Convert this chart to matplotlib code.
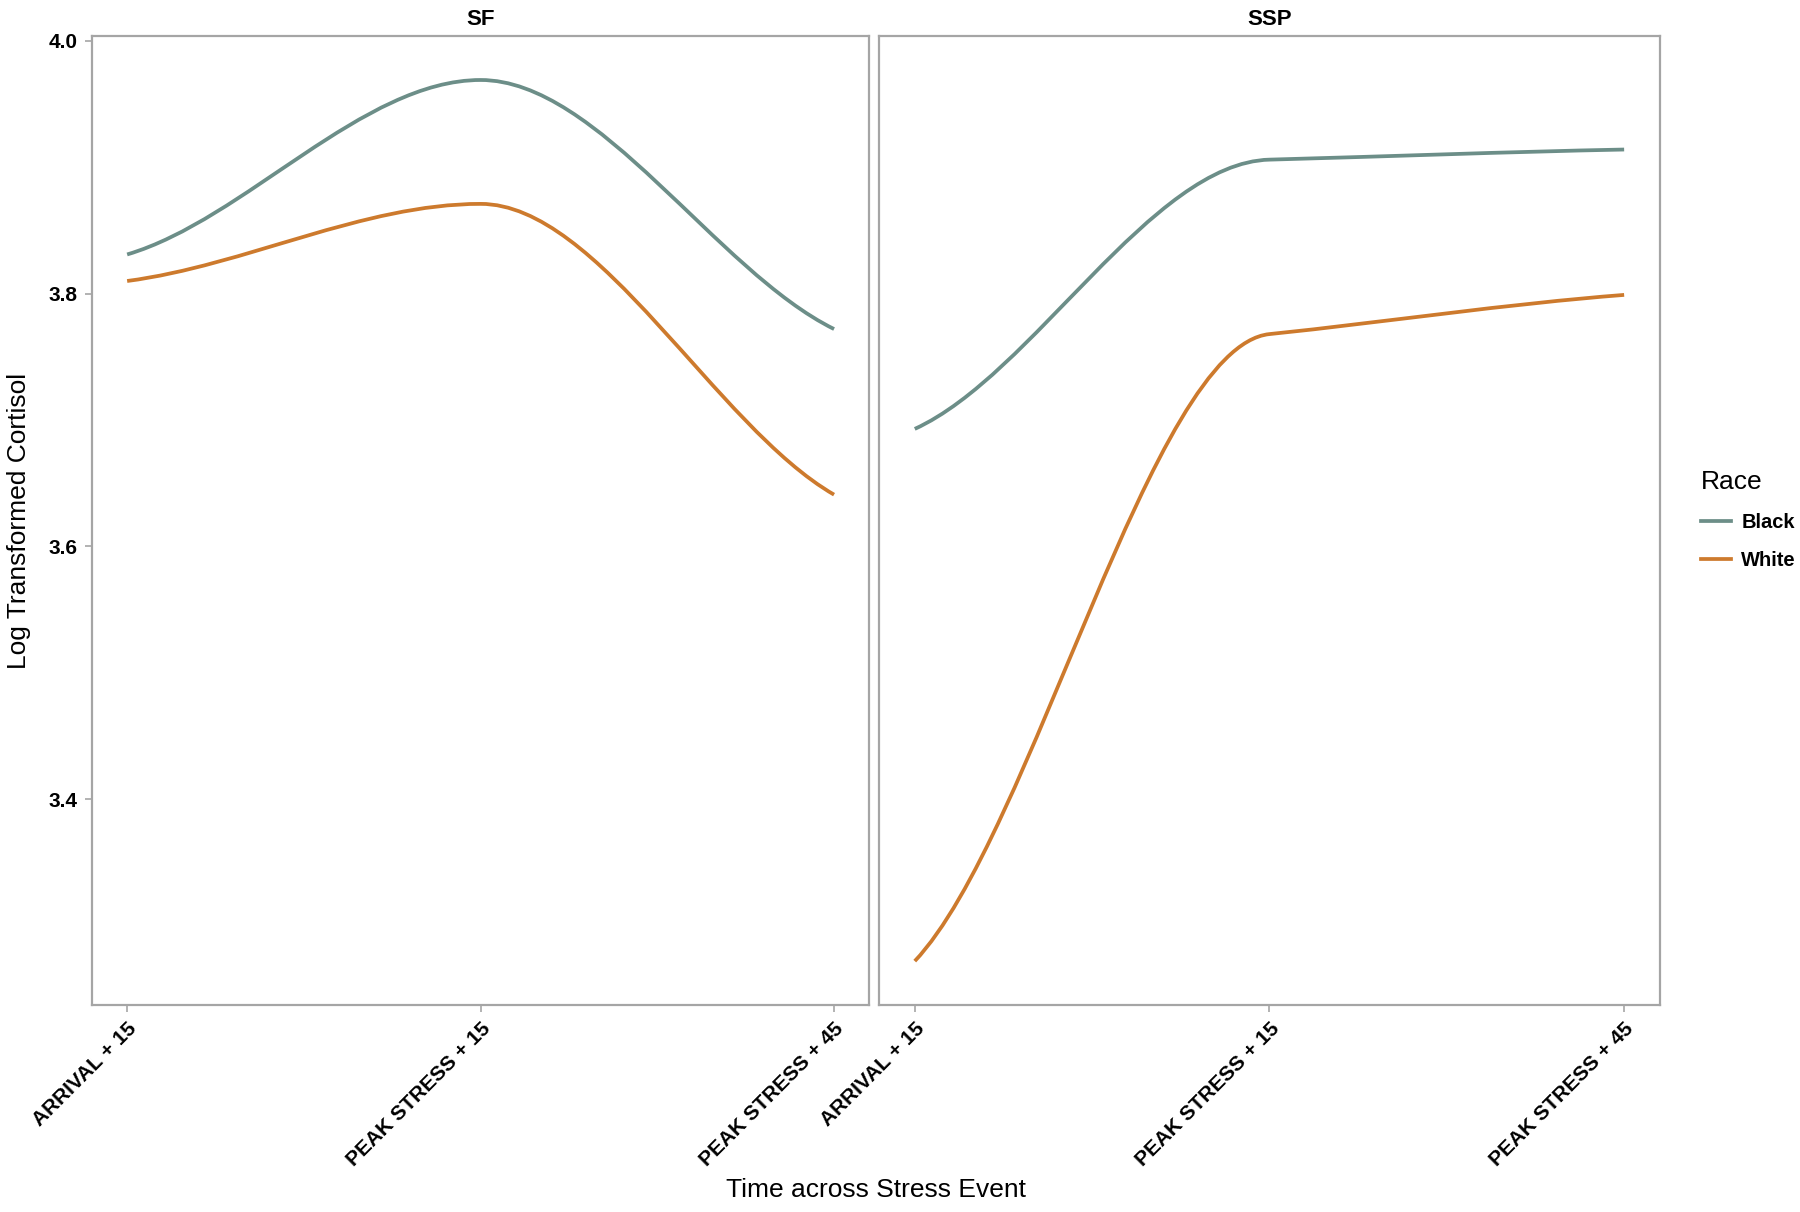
import numpy as np
import matplotlib
matplotlib.use('Agg')
import matplotlib.pyplot as plt
from matplotlib.path import Path
from matplotlib.patches import PathPatch
from matplotlib.lines import Line2D

plt.rcParams['font.family'] = ['Liberation Sans', 'DejaVu Sans']

# values
times = ['ARRIVAL + 15', 'PEAK STRESS + 15', 'PEAK STRESS + 45']
panels = ['SF', 'SSP']
races = ['Black', 'White']
sf_black = [3.831, 3.969, 3.772]
sf_white = [3.810, 3.871, 3.641]
ssp_black = [3.693, 3.906, 3.914]
ssp_white = [3.272, 3.768, 3.799]
colors = {'Black': '#6c8e88', 'White': '#cd7a2d'}

data = {'SF': {'Black': sf_black, 'White': sf_white},
        'SSP': {'Black': ssp_black, 'White': ssp_white}}


def smooth_path(y):
    # monotone cubic through the points, handed to matplotlib as bezier segments
    y = np.asarray(y, dtype=float)
    x = np.arange(len(y))
    d = np.diff(y)
    m = np.zeros(len(y))
    for i in range(1, len(y) - 1):
        if d[i - 1] * d[i] > 0:
            m[i] = d[i - 1] * d[i] / (d[i - 1] + d[i])
    m[0] = 0.6 * d[0]
    m[-1] = 0.7 * d[-1]
    verts = [(x[0], y[0])]
    codes = [Path.MOVETO]
    for i in range(len(y) - 1):
        verts += [(x[i] + 1 / 3, y[i] + m[i] / 3),
                  (x[i + 1] - 1 / 3, y[i + 1] - m[i + 1] / 3),
                  (x[i + 1], y[i + 1])]
        codes += [Path.CURVE4] * 3
    return Path(verts, codes)


fig = plt.figure(figsize=(18, 12.12), dpi=100)
ax1 = fig.add_axes([0.051, 0.1705, 0.432, 0.800])
ax2 = fig.add_axes([0.4885, 0.1705, 0.4335, 0.800])

for ax, p in zip([ax1, ax2], panels):
    for r in races:
        ax.add_patch(PathPatch(smooth_path(data[p][r]), facecolor='none',
                               edgecolor=colors[r], lw=2.7, capstyle='butt'))
    ax.set_xlim(-0.1, 2.1)
    ax.set_ylim(3.237, 4.004)
    ax.set_xticks(range(len(times)))
    ax.set_xticklabels(times, rotation=45, ha='right', rotation_mode='anchor',
                       fontsize=15, fontweight='bold')
    ax.set_yticks([3.4, 3.6, 3.8, 4.0])
    ax.set_yticklabels(['3.4', '3.6', '3.8', '4.0'], fontsize=15, fontweight='bold')
    for s in ax.spines.values():
        s.set_color('#a5a5a5')
        s.set_linewidth(1.6)
    ax.tick_params(color='#a5a5a5', length=5, width=1.2, pad=5)
    ax.set_title(p, fontsize=16, fontweight='bold', pad=8)

ax2.tick_params(axis='y', left=False, labelleft=False)

fig.text(0.4865, 0.008, 'Time across Stress Event', ha='center', va='bottom', fontsize=19)
fig.text(0.004, 0.5705, 'Log Transformed Cortisol', rotation=90, ha='left', va='center', fontsize=19)

handles = [Line2D([], [], color=colors[r], lw=2.7) for r in races]
leg = fig.legend(handles, races, title='Race', loc='upper left',
                 bbox_to_anchor=(0.935, 0.627), frameon=False, fontsize=14.5,
                 title_fontsize=19, handlelength=1.5, handletextpad=0.5,
                 labelspacing=0.95)
leg._legend_box.align = 'left'
for t in leg.get_texts():
    t.set_fontweight('bold')

fig.savefig('out.png', dpi=100)
